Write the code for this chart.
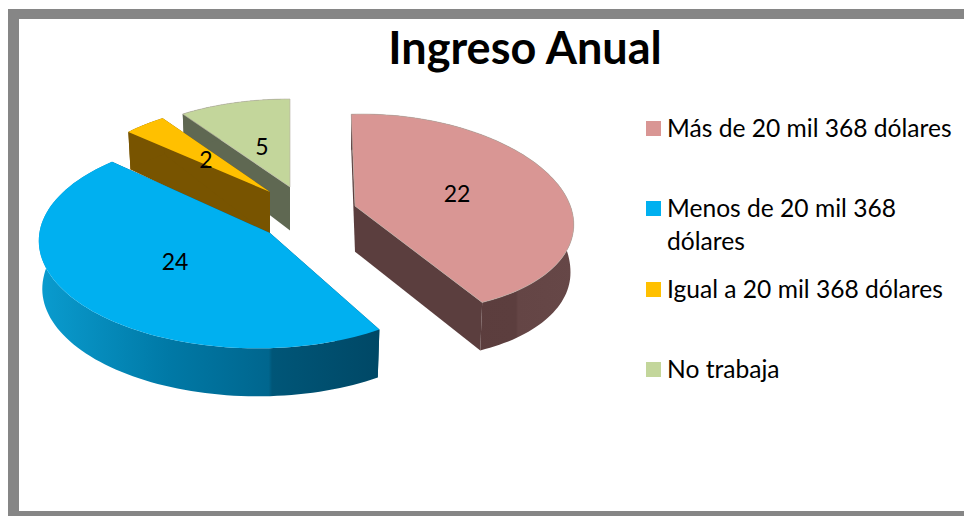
import numpy as np, pandas as pd, altair as alt

# --- chart values ---
title_text = "Ingreso Anual"
categories = ["Más de 20 mil 368 dólares", "Menos de 20 mil 368 dólares",
              "Igual a 20 mil 368 dólares", "No trabaja"]
values = [22, 24, 2, 5]
legend_lines = [["Más de 20 mil 368 dólares"], ["Menos de 20 mil 368", "dólares"],
                ["Igual a 20 mil 368 dólares"], ["No trabaja"]]
top_colors = ["#D99694", "#00B0F0", "#FFC000", "#C3D69B"]

# --- layout of the 3D look: one projected rim per exploded slice ---
geometry = [
    dict(apex=(355, 206), centre=(385.5, 212.4), a=188.8, b=97.3, tilt=5.05, stretch=1.068, shift=-13.1),
    dict(apex=(270, 233), centre=(254.4, 242.4), a=215.6, b=105.9, tilt=0.55, stretch=1.068, shift=-15.3),
    dict(apex=(270, 192), centre=(270, 192), a=192, b=89, tilt=0, stretch=1, shift=0),
    dict(apex=(290, 187), centre=(290, 187), a=192, b=88, tilt=0, stretch=1, shift=0),
]
def grad(stops):
    return alt.Gradient(gradient="linear", x1=0, x2=1, y1=0, y2=0,
                        stops=[alt.GradientStop(offset=o, color=c) for o, c in stops])
wall_solid = ["#5B3E3E", "#004F70", "#785400", "#5F6852"]
wall_fills = [
    grad([(0, "#5A3C3C"), (0.74, "#5C3E3E"), (0.75, "#644545"), (1, "#664747")]),
    grad([(0, "#0A9CCF"), (0.38, "#0079A6"), (0.675, "#00668E"), (0.685, "#005678"), (1, "#004866")]),
    "#785400",
    "#5F6852",
]
label_xy = [(457, 194.5), (175, 262.5), (206, 160.5), (262, 147.5)]
legend_square_y = [128.5, 208.5, 289.5, 369.5]
legend_text_nudge = 1
legend_line_gap = 33
frame_grey = "#868686"

def rim(g, th0, th1, n=90):
    c, s = np.cos(np.radians(g["tilt"])), np.sin(np.radians(g["tilt"]))
    phi = np.radians(np.linspace(th0, th1, n) * g["stretch"] + g["shift"])
    u, v = g["a"] * np.sin(phi), -g["b"] * np.cos(phi)
    return g["centre"][0] + u * c - v * s, g["centre"][1] + u * s + v * c

def drop(g, x, y):
    d = np.minimum(48, 37.5 + (y - 132) * 0.11)
    return g["apex"][0] + (x - g["apex"][0]) * 0.985, y + d

total = sum(values)
edges = np.cumsum([0] + values) / total * 360
X = alt.X("x:Q", scale=alt.Scale(domain=[8, 964]), axis=None)
Y = alt.Y("y:Q", scale=alt.Scale(domain=[516, 8]), axis=None)

def poly(xs, ys, fill, stroke=None):
    d = pd.DataFrame({"x": np.r_[xs, xs[0]], "y": np.r_[ys, ys[0]]})
    d["i"] = range(len(d))
    kw = dict(fill=fill, strokeWidth=0.6, interpolate="linear")
    kw["stroke"] = stroke if stroke else "transparent"
    return alt.Chart(d).mark_line(**kw).encode(x=X, y=Y, order="i:Q")

slices = {}
for k in range(4):
    g = geometry[k]
    rx, ry = rim(g, edges[k], edges[k + 1])
    ax, ay = g["apex"]
    px = np.r_[ax, rx]; py = np.r_[ay, ry]
    bx, by = drop(g, px, py)
    wall_rim = poly(np.r_[rx, bx[1:][::-1]], np.r_[ry, by[1:][::-1]], wall_fills[k])
    wall_a = poly(np.r_[ax, rx[0], bx[1], bx[0]], np.r_[ay, ry[0], by[1], by[0]], wall_solid[k])
    wall_b = poly(np.r_[ax, rx[-1], bx[-1], bx[0]], np.r_[ay, ry[-1], by[-1], by[0]], wall_solid[k])
    top = poly(px, py, top_colors[k], "#B5AFA5" if k in (0, 3) else None)
    slices[k] = [wall_a, wall_b, wall_rim, top]

frame = pd.DataFrame({"x": [8, 8, 8], "x2": [964, 19, 964], "y": [9, 9, 511], "y2": [19, 516, 516]})
frame_layer = alt.Chart(frame).mark_rect(color=frame_grey).encode(x=X, x2="x2:Q", y=Y, y2="y2:Q")

title_layer = alt.Chart(pd.DataFrame({"t": [title_text], "x": [525], "y": [50]})).mark_text(
    font="Lato", fontWeight="bold", fontSize=45, color="#000000", align="center", baseline="middle"
).encode(x=X, y=Y, text="t:N")

val_layer = alt.Chart(pd.DataFrame({"t": [str(v) for v in values],
                                    "x": [p[0] for p in label_xy], "y": [p[1] for p in label_xy]})).mark_text(
    font="Lato", fontSize=23, color="#000000", align="center", baseline="middle"
).encode(x=X, y=Y, text="t:N")

sq = pd.DataFrame({"x": [653.5] * 4, "y": legend_square_y, "c": top_colors})
sq_layer = alt.Chart(sq).mark_square(size=225, opacity=1).encode(x=X, y=Y, color=alt.Color("c:N", scale=None))
rows = []
for lines, y0 in zip(legend_lines, legend_square_y):
    for j, line in enumerate(lines):
        rows.append({"t": line, "x": 667, "y": y0 + legend_text_nudge + j * legend_line_gap})
leg_layer = alt.Chart(pd.DataFrame(rows)).mark_text(
    font="Lato", fontSize=24.6, color="#000000", align="left", baseline="middle"
).encode(x=X, y=Y, text="t:N")

layers = [frame_layer, title_layer] + slices[3] + slices[2] + slices[1] + slices[0] + [val_layer, sq_layer, leg_layer]
chart = alt.layer(*layers).properties(width=956, height=508, padding=0).configure_view(stroke=None)
chart.save("out.html", embed_options={"renderer": "svg", "actions": False})
